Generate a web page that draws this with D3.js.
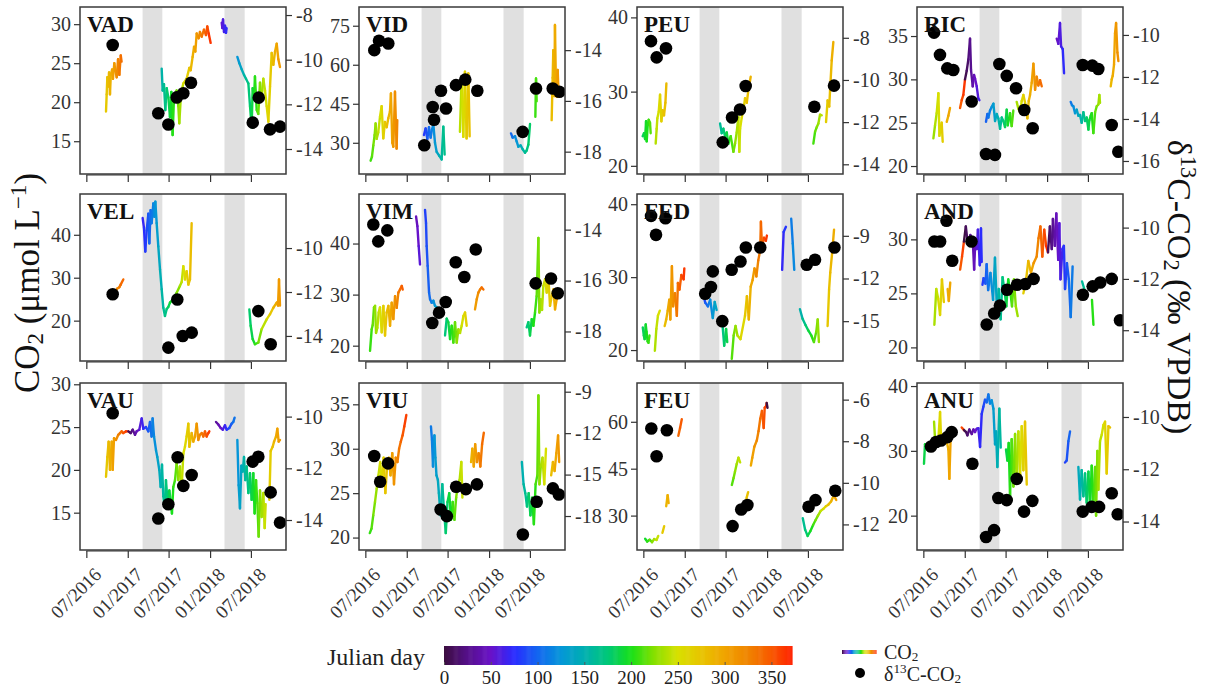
<!DOCTYPE html>
<html><head><meta charset="utf-8">
<script src="https://cdn.jsdelivr.net/npm/d3@7"></script>
<style>body{margin:0;background:#fff;} svg{display:block;} text{font-family:'Liberation Serif','Times New Roman',serif;}</style>
</head><body><svg id="c" width="1213" height="691"></svg>
<script>
// ---------------- DATA ----------------
const sites = ["VAD","VID","PEU","RIC","VEL","VIM","FED","AND","VAU","VIU","FEU","ANU"];
const xDomain = [2016.42, 2018.922];               // decimal year
const xTicks = [2016.497, 2017.0, 2017.496, 2018.0, 2018.496];
const xTickLabels = ["07/2016","01/2017","07/2017","01/2018","07/2018"];
const bands = [[2017.18, 2017.42], [2018.175, 2018.42]];

const co2Domain = [[10.8,32.2],[18,82.2],[18.9,41.4],[19.08,38.35],[10.6,49.5],[17.0,49.7],[18.5,41.4],[18.74,34.2],[10.64,30.15],[18.6,37.4],[19,72.4],[14.7,40.47]];
const co2Ticks = [[15,20,25,30],[30,45,60,75],[20,30,40],[20,25,30,35],[20,30,40],[20,30,40],[20,30,40],[20,25,30],[15,20,25,30],[20,25,30,35],[30,45,60],[20,30,40]];
const d13cDomain = [[-15.12,-7.64],[-18.88,-12.3],[-14.46,-6.54],[-16.62,-8.67],[-15.14,-7.54],[-19.16,-12.6],[-17.8,-6.06],[-15.2,-8.69],[-15.16,-8.7],[-20.46,-8.37],[-13.23,-5.2],[-15.09,-8.7]];
const d13cTicks = [[-8,-10,-12,-14],[-14,-16,-18],[-8,-10,-12,-14],[-10,-12,-14,-16],[-10,-12,-14],[-14,-16,-18],[-9,-12,-15],[-10,-12,-14],[-10,-12,-14],[-9,-12,-15,-18],[-6,-8,-10,-12],[-10,-12,-14]];

const jdStops = [0,25,50,75,100,125,150,175,200,225,250,275,300,325,350,372];
const jdColors = ["#3d0f3f","#55108a","#6a12c8","#2a2cff","#1466f0","#0596d8","#00b0b0","#00c878","#18e018","#88e000","#d8e000","#e8c400","#f0a400","#f08400","#f85800","#ff2200"];
const legendTicks = [0,50,100,150,200,250,300,350];

// CO2 series (segments of [decimal year, µmol/L])
const co2_VAD = [
 [[2016.736,18.8],[2016.744,21],[2016.752,23.2],[2016.762,22],[2016.773,23.8],[2016.784,21],[2016.794,23.5],[2016.81,24.2],[2016.82,23],[2016.837,25],[2016.85,24],[2016.866,23.2],[2016.882,25.5],[2016.898,23.5],[2016.915,26],[2016.925,25.2]],
 [[2017.412,24.3],[2017.424,21.5],[2017.440,22.3],[2017.456,19],[2017.473,21.8],[2017.493,20.6],[2017.513,18.1],[2017.529,21.3],[2017.545,15.8],[2017.562,20.7],[2017.594,21.5],[2017.614,19.5],[2017.626,17.3],[2017.647,21.1],[2017.675,22.4],[2017.715,23],[2017.748,24.4],[2017.764,24.1],[2017.788,25.8],[2017.805,27.1],[2017.821,26.5],[2017.837,28.8],[2017.861,28.2],[2017.877,29],[2017.898,28.4],[2017.926,29.3],[2017.950,28.6],[2017.966,29.7],[2017.983,28.8],[2018.007,27.6]],
 [[2018.141,30.2],[2018.149,29.5],[2018.157,30.6],[2018.169,29],[2018.181,29.8],[2018.193,28.9],[2018.201,29.5]],
 [[2018.331,25.8],[2018.355,25],[2018.384,24.2],[2018.412,23.5],[2018.436,23],[2018.465,22.4],[2018.485,19.5],[2018.505,16.8],[2018.517,21.8],[2018.534,20.5],[2018.545,23.3],[2018.566,19],[2018.586,18.5],[2018.606,22.5],[2018.626,20.5],[2018.647,23],[2018.667,21.5],[2018.687,19.5],[2018.708,17.5],[2018.728,22],[2018.748,26.3],[2018.768,24.8],[2018.789,26.5],[2018.809,27.5],[2018.829,25.5],[2018.849,24.5]]
];
const co2_VID = [
 [[2016.561,23.1],[2016.577,24.6],[2016.594,29],[2016.610,33],[2016.622,37.4],[2016.634,31.5],[2016.654,34],[2016.675,40],[2016.695,44.1],[2016.715,31.7],[2016.735,38],[2016.756,36],[2016.776,39.4],[2016.796,42],[2016.808,49],[2016.824,30],[2016.837,28.5],[2016.857,49.6],[2016.877,27.8],[2016.885,38.7]],
 [[2017.209,33],[2017.229,35.5],[2017.250,31.5],[2017.270,36],[2017.290,32],[2017.306,35],[2017.323,37],[2017.343,30],[2017.363,26.5],[2017.395,25],[2017.424,23.6],[2017.444,36.2],[2017.460,25.5]],
 [[2017.646,34.2],[2017.667,55.4],[2017.687,32.3],[2017.707,57.3],[2017.727,31.7],[2017.748,56.7],[2017.764,32.5]],
 [[2018.266,33.6],[2018.286,32],[2018.315,32.5],[2018.335,30.5],[2018.355,28.5],[2018.383,29],[2018.408,27.5],[2018.436,26.2],[2018.456,27],[2018.477,29.3],[2018.497,37.2]],
 [[2018.562,40],[2018.570,54.7],[2018.578,46]],
 [[2018.760,38.7],[2018.772,55],[2018.780,65.6],[2018.792,48],[2018.800,75.3],[2018.813,50],[2018.821,47.7],[2018.833,58],[2018.845,48]]
];
const co2_PEU = [
 [[2016.489,24.0],[2016.505,24.4],[2016.518,23.6],[2016.530,26.0],[2016.538,23.3],[2016.550,25.5],[2016.562,26.2],[2016.578,25.8],[2016.586,24.4]],
 [[2016.647,23],[2016.659,25],[2016.667,26.4],[2016.684,27.3],[2016.700,29.6],[2016.716,26],[2016.732,27.5],[2016.748,26.8],[2016.765,28.5],[2016.777,31.1]],
 [[2017.429,25.7],[2017.449,24.4],[2017.469,25],[2017.489,24],[2017.510,24.5],[2017.530,23],[2017.558,24],[2017.591,21.9],[2017.611,23],[2017.631,24.5],[2017.651,26.6],[2017.663,21.9],[2017.672,25],[2017.692,26.5],[2017.712,27.5],[2017.732,29.1],[2017.753,28.5],[2017.773,30.2],[2017.801,32.0]],
 [[2018.562,23],[2018.583,24.6],[2018.603,25.2],[2018.623,25.7],[2018.643,26.9],[2018.664,26.8]],
 [[2018.716,25.9],[2018.735,28.8],[2018.755,28],[2018.765,30.2],[2018.785,34.2],[2018.805,36.7]]
];
const co2_RIC = [
 [[2016.619,23.2],[2016.639,24.7],[2016.659,26.1],[2016.680,28.4],[2016.692,23.5],[2016.708,24.5],[2016.720,25],[2016.732,22.8]],
 [[2016.781,25.1],[2016.801,25.8],[2016.821,26.7]],
 [[2016.943,26.7],[2016.963,27.6],[2016.983,28.2],[2017.003,30],[2017.024,31],[2017.044,32.3],[2017.064,34.7],[2017.076,31.1],[2017.097,29.2],[2017.113,30.5],[2017.125,30.1],[2017.145,29.2],[2017.165,27.8],[2017.178,27.6]],
 [[2017.258,25.1],[2017.275,26],[2017.287,25.6],[2017.307,26.4],[2017.327,26.8],[2017.348,27.2],[2017.368,25.2],[2017.388,26],[2017.408,25.5],[2017.429,24.3],[2017.449,25.6],[2017.469,25.2],[2017.489,24.5],[2017.510,26.5],[2017.522,24.7],[2017.550,26.1],[2017.570,24.6],[2017.590,26.4]],
 [[2017.631,27.4],[2017.651,26.6],[2017.672,26.2],[2017.692,27.5],[2017.712,28.2],[2017.740,27],[2017.761,25.5],[2017.777,27.5],[2017.793,28.2],[2017.813,29.6],[2017.834,31.8],[2017.854,28.8],[2017.874,30.3],[2017.894,29.3],[2017.915,29.9],[2017.935,29.2]],
 [[2018.117,34.7],[2018.137,34.1],[2018.157,36.5],[2018.170,33.8],[2018.190,33.5],[2018.206,30.7]],
 [[2018.287,27.4],[2018.303,27],[2018.319,26.9],[2018.340,26.1],[2018.360,26.5],[2018.380,25.8],[2018.400,25.9],[2018.420,25],[2018.441,26.2],[2018.461,25.2],[2018.481,25.6],[2018.502,24.2],[2018.514,25.3],[2018.530,25.8],[2018.542,26.1],[2018.562,23.8],[2018.583,26.2],[2018.603,26.9],[2018.623,27.1],[2018.635,28.2],[2018.643,27.3]],
 [[2018.773,29.2],[2018.785,30],[2018.797,30.4],[2018.813,31.7],[2018.825,35.3],[2018.838,36.5],[2018.854,33.1],[2018.866,32.1]]
];
const co2_VEL = [
 [[2016.83,26.3],[2016.845,26.5],[2016.873,27.5],[2016.898,27.8],[2016.914,28.4],[2016.946,29.6]],
 [[2017.181,43.9],[2017.197,41.6],[2017.213,36.1],[2017.230,41],[2017.250,44.9],[2017.262,38],[2017.278,45.7],[2017.290,42.7],[2017.311,47.3],[2017.323,44.2],[2017.335,47.7],[2017.351,42.7],[2017.371,37.3],[2017.392,31.9],[2017.412,27.3],[2017.432,23],[2017.452,21.1],[2017.473,22.7],[2017.493,23.2],[2017.513,24.2],[2017.553,25],[2017.594,26.5],[2017.634,28.1],[2017.655,29],[2017.675,32.7],[2017.695,29.6],[2017.715,31.5],[2017.736,28.4],[2017.756,29.6],[2017.776,42.7]],
 [[2018.477,22.6],[2018.493,18.8],[2018.517,15.7],[2018.545,14.5],[2018.586,14.9],[2018.626,18],[2018.687,20.3],[2018.728,21.5],[2018.768,23],[2018.809,24.2],[2018.825,23.5],[2018.837,29.6],[2018.849,23.5]]
];
const co2_VIM = [
 [[2016.554,19],[2016.574,23.2],[2016.586,24],[2016.602,27.5],[2016.615,27.8],[2016.627,22.5],[2016.643,23.5],[2016.659,26.5],[2016.675,27.5],[2016.696,22.6],[2016.716,27.8],[2016.736,22],[2016.756,26.5],[2016.777,27.8],[2016.797,23.9],[2016.817,28.4],[2016.837,25.2],[2016.858,29.7],[2016.878,27.4],[2016.898,30.4],[2016.918,31],[2016.939,31.7],[2016.951,31]],
 [[2017.113,45.3],[2017.129,43.4],[2017.145,39.5],[2017.161,35.9]],
 [[2017.222,46.6],[2017.234,44],[2017.242,39.5],[2017.254,35.6],[2017.271,30.4],[2017.283,29.1],[2017.303,28.4],[2017.323,28.8],[2017.343,27.8],[2017.364,27.5],[2017.384,27.1],[2017.412,26.5]],
 [[2017.465,22],[2017.485,25.3],[2017.505,24.6],[2017.526,21.3],[2017.546,23.9],[2017.566,20.6],[2017.586,24.6],[2017.607,20.6],[2017.627,23.2],[2017.647,22.5],[2017.667,23.9],[2017.688,25.8],[2017.708,26.5],[2017.728,23.9]],
 [[2017.829,27.1],[2017.850,29.1],[2017.870,30.4],[2017.890,31],[2017.910,31.4],[2017.931,31]],
 [[2018.457,23.6],[2018.477,24.6],[2018.497,22],[2018.518,25.2],[2018.538,23.9],[2018.558,26.5],[2018.578,29.7],[2018.599,41.1],[2018.611,26.5],[2018.627,29.1],[2018.643,27],[2018.659,31.7],[2018.680,33],[2018.700,30.4],[2018.720,33.6],[2018.740,27.8],[2018.761,29.7],[2018.781,31],[2018.801,27.1],[2018.821,29.1],[2018.854,30]]
];
const co2_FED = [
 [[2016.490,23.1],[2016.503,22],[2016.513,21.5],[2016.526,23.5],[2016.536,22.5],[2016.549,21.2],[2016.559,21],[2016.572,22]],
 [[2016.637,19.9],[2016.655,22.9],[2016.674,24.7],[2016.697,25.4]],
 [[2016.756,23.3],[2016.775,24.2],[2016.793,25.4],[2016.812,26.9],[2016.825,24.2],[2016.844,31.5],[2016.858,26],[2016.881,27.8],[2016.904,24.7],[2016.917,29.2],[2016.936,28.3],[2016.959,30.3],[2016.986,29.7],[2016.995,31.2]],
 [[2017.226,27.6],[2017.249,26.5],[2017.281,26],[2017.309,26.9],[2017.341,24.4],[2017.364,26.6],[2017.387,25.5]],
 [[2017.456,23.8],[2017.479,20.6],[2017.502,22.9],[2017.516,21.1]],
 [[2017.571,18.8],[2017.594,22],[2017.617,23.3],[2017.640,22],[2017.677,21.5],[2017.732,24.7],[2017.755,27.4],[2017.778,24.2],[2017.801,28.7],[2017.824,29.6],[2017.847,31.2],[2017.870,30.1],[2017.893,32.3],[2017.916,33.7],[2017.925,37.6],[2017.939,34.1],[2017.962,35.4],[2017.985,35],[2017.998,35.7]],
 [[2018.183,31],[2018.201,36.2],[2018.229,36.9]],
 [[2018.293,38],[2018.312,34.6],[2018.330,31]],
 [[2018.399,25.6],[2018.431,24.3],[2018.468,23.4],[2018.500,22.7],[2018.537,22],[2018.569,21.1],[2018.597,22.5],[2018.615,24.2],[2018.629,21.1]],
 [[2018.735,23.3],[2018.753,28.3],[2018.767,30.6],[2018.790,33.3],[2018.813,36.5]]
];
const co2_AND = [
 [[2016.631,22.1],[2016.654,25.4],[2016.677,24.5],[2016.700,23],[2016.723,26.3],[2016.746,24.2]],
 [[2016.792,25.4],[2016.806,24.3],[2016.824,26]],
 [[2016.944,27.2],[2016.967,28.4],[2016.990,29.8],[2017.013,31.2],[2017.036,29.6],[2017.068,30.4],[2017.100,29.5],[2017.114,27.2],[2017.128,29.8],[2017.146,29.1],[2017.160,30.9],[2017.183,27.6],[2017.197,31],[2017.206,27.9]],
 [[2017.215,25.8],[2017.229,26.4],[2017.252,25.9],[2017.266,27.7],[2017.284,25.3],[2017.312,26.9],[2017.344,24.4],[2017.367,28.3],[2017.390,23.6],[2017.413,25.4],[2017.436,22.6],[2017.459,26.5],[2017.482,25.3],[2017.505,23.8],[2017.528,26.3],[2017.551,25.3],[2017.574,23.8],[2017.597,26.3],[2017.620,23.8],[2017.643,22.9]],
 [[2017.712,25],[2017.744,26.2],[2017.772,28],[2017.804,26.9],[2017.836,27.8],[2017.873,28.4],[2017.896,30.1],[2017.919,31.2],[2017.942,28.4],[2017.965,30.9],[2017.988,29.4],[2018.011,28.8],[2018.034,31.2],[2018.057,29.1],[2018.071,31.9],[2018.094,29.4],[2018.112,32.4],[2018.135,28.1],[2018.149,31.5],[2018.163,26.3],[2018.186,29.1],[2018.204,29.4],[2018.218,25.4],[2018.241,27.8],[2018.264,26.3],[2018.287,22.8],[2018.310,27.5]],
 [[2018.425,26.1],[2018.448,25.5],[2018.462,25.1]],
 [[2018.545,24.4],[2018.563,22.1]]
];
const co2_VAU = [
 [[2016.736,19.2],[2016.752,21.5],[2016.768,23.3],[2016.784,20],[2016.805,23.3],[2016.817,20],[2016.833,23.7],[2016.857,23.5],[2016.885,24.1],[2016.906,24.3],[2016.926,24.5],[2016.946,24.3],[2016.979,24.5],[2017.007,24.5],[2017.035,24.3],[2017.060,24.7],[2017.088,24.1],[2017.108,24.5],[2017.140,24.7],[2017.169,26],[2017.189,24.8],[2017.221,25],[2017.250,24.5],[2017.270,25.6],[2017.290,23.9],[2017.302,26],[2017.319,23.9],[2017.343,22.3],[2017.359,21.5],[2017.383,20],[2017.400,18],[2017.416,20.6],[2017.432,16.9],[2017.448,15.7],[2017.464,18.8],[2017.485,16.1],[2017.505,17.6],[2017.521,16.5],[2017.537,14.9],[2017.553,18],[2017.574,18.8],[2017.594,20.8],[2017.614,18.8],[2017.634,20.4],[2017.655,18],[2017.675,21.9],[2017.695,22.7],[2017.715,23.9],[2017.736,25.4],[2017.748,22.7],[2017.776,24.3],[2017.796,23.3],[2017.817,23.9],[2017.837,25.4],[2017.857,23.5],[2017.877,24.1],[2017.898,24.3],[2017.918,23.9],[2017.938,24.5],[2017.958,23.9],[2017.979,24.3],[2017.991,24.5]],
 [[2018.072,25.6],[2018.100,25.3],[2018.128,24.9],[2018.153,24.7],[2018.181,25.2],[2018.201,24.7],[2018.234,24.9],[2018.262,25.4],[2018.282,25.6],[2018.298,26.1]],
 [[2018.331,23.5],[2018.347,18.2],[2018.363,15.5],[2018.380,20.5],[2018.396,19.8],[2018.412,21.5],[2018.428,18.8],[2018.444,20.4],[2018.465,17.3],[2018.485,19.6],[2018.505,16.5],[2018.525,19.6],[2018.541,14.9],[2018.558,18.8],[2018.574,16.1],[2018.590,12.2],[2018.606,17.6],[2018.626,14.5],[2018.647,17.3],[2018.663,13.2],[2018.675,16]],
 [[2018.720,16.5],[2018.736,22.2],[2018.760,22.7],[2018.777,23.3],[2018.801,23.9],[2018.817,24.8],[2018.833,23.3],[2018.849,23.5]]
];
const co2_VIU = [
 [[2016.551,20.5],[2016.572,21],[2016.593,22.5],[2016.614,24],[2016.635,25.5],[2016.656,27],[2016.677,28.5],[2016.698,26],[2016.719,29],[2016.740,25],[2016.761,28],[2016.782,29],[2016.803,27],[2016.824,29.5],[2016.845,26],[2016.866,29],[2016.887,28.5],[2016.907,30],[2016.928,30.8],[2016.949,31.5],[2016.970,32.5],[2016.995,33.8]],
 [[2017.294,32.5],[2017.306,31],[2017.319,28],[2017.336,31.5],[2017.348,29],[2017.361,27],[2017.378,26.5],[2017.390,25],[2017.411,22.5],[2017.432,26],[2017.453,23],[2017.474,20.5],[2017.495,24],[2017.516,25],[2017.537,22],[2017.558,24],[2017.579,22],[2017.600,24.5],[2017.621,26],[2017.642,26.5],[2017.663,28.5],[2017.676,24.5]],
 [[2017.781,28.5],[2017.797,30],[2017.814,28],[2017.831,30.5],[2017.852,28.5],[2017.873,29.5],[2017.894,28],[2017.915,30.5],[2017.936,31.8]],
 [[2018.398,28.5],[2018.419,26],[2018.440,25],[2018.460,23.5],[2018.481,25],[2018.502,22.5],[2018.523,24.5],[2018.544,21.5],[2018.565,26],[2018.586,27],[2018.599,36],[2018.612,26],[2018.628,28],[2018.649,29],[2018.670,26],[2018.691,30]],
 [[2018.754,27],[2018.775,28.5],[2018.796,27.5],[2018.817,29.5],[2018.838,31.5],[2018.851,28.5]]
];
const co2_FEU = [
 [[2016.519,22.6],[2016.544,21.7],[2016.574,22.3],[2016.603,21.5],[2016.628,22.5],[2016.657,22.2],[2016.678,23.5]],
 [[2016.729,24.5],[2016.750,26.6]],
 [[2016.775,33],[2016.792,36.5],[2016.804,34]],
 [[2016.922,55.5],[2016.943,58],[2016.964,60.8]],
 [[2017.572,39.8],[2017.593,42],[2017.610,44],[2017.631,46.5],[2017.652,48.5],[2017.673,47]],
 [[2017.749,35.5],[2017.770,37.5]],
 [[2017.803,46],[2017.820,48.5],[2017.845,52],[2017.875,54],[2017.896,57],[2017.917,61],[2017.938,63.5],[2017.959,58],[2017.971,64.5],[2017.988,65],[2017.995,66],[2018.005,64.5]],
 [[2018.433,29.2],[2018.462,25.5],[2018.492,23.5],[2018.525,25],[2018.559,27],[2018.588,28.5],[2018.618,30],[2018.651,31.5],[2018.685,32.2],[2018.714,33],[2018.744,33.5],[2018.777,34.5],[2018.811,36.5],[2018.840,35]]
];
const co2_ANU = [
 [[2016.505,28],[2016.517,31],[2016.538,30.5],[2016.558,30]],
 [[2016.627,34.5],[2016.643,31],[2016.659,32],[2016.680,31.8],[2016.700,36],[2016.712,32],[2016.732,32.5],[2016.761,32],[2016.781,31.5],[2016.801,30.2],[2016.813,25.7],[2016.829,32.2],[2016.854,33.2]],
 [[2016.963,33.6],[2016.991,33.2],[2017.016,32.9],[2017.032,32.4],[2017.056,33.3],[2017.085,32.6],[2017.105,33.3],[2017.125,32.9],[2017.145,33.4],[2017.165,33.5],[2017.186,30.6],[2017.206,35.7],[2017.226,36.8],[2017.246,37.9],[2017.267,37.5],[2017.287,38.7],[2017.307,37.3],[2017.327,37.8],[2017.348,36.5],[2017.368,31],[2017.380,33],[2017.396,27.5],[2017.420,36.5],[2017.437,30.5]],
 [[2017.501,30.2],[2017.518,28.5],[2017.534,31.2],[2017.550,23],[2017.570,31.8],[2017.591,24.5],[2017.611,32.6],[2017.631,25],[2017.651,33],[2017.672,26],[2017.692,33.8],[2017.712,27],[2017.732,34.5],[2017.753,24.8]],
 [[2018.218,28.2],[2018.238,28.5],[2018.259,31.5],[2018.279,33]],
 [[2018.380,27.5],[2018.400,22.5],[2018.420,27],[2018.441,23],[2018.461,26.5],[2018.481,22],[2018.502,26.8],[2018.522,21],[2018.542,27.7],[2018.562,22],[2018.583,27.5],[2018.595,20],[2018.611,30],[2018.623,24],[2018.643,31.5],[2018.664,32.5],[2018.684,34],[2018.704,34.5],[2018.724,26.5],[2018.745,33.8],[2018.765,33.6]]
];

// δ13C-CO2 samples ([decimal year, ‰ VPDB])
const d13c_VAD = [[2016.817,-9.34],[2017.371,-12.4],[2017.493,-12.9],[2017.595,-11.69],[2017.675,-11.5],[2017.768,-11.03],[2018.518,-12.82],[2018.591,-11.7],[2018.728,-13.12],[2018.849,-13.0]];
const d13c_VID = [[2016.606,-14.0],[2016.663,-13.63],[2016.776,-13.74],[2017.213,-17.75],[2017.315,-16.24],[2017.331,-16.74],[2017.416,-15.6],[2017.477,-16.3],[2017.598,-15.38],[2017.711,-15.16],[2017.857,-15.6],[2018.408,-17.22],[2018.570,-15.51],[2018.773,-15.51],[2018.853,-15.64]];
const d13c_PEU = [[2016.590,-8.16],[2016.659,-8.93],[2016.772,-8.5],[2017.461,-12.96],[2017.574,-11.78],[2017.671,-11.4],[2017.740,-10.29],[2018.574,-11.27],[2018.813,-10.27]];
const d13c_RIC = [[2016.627,-9.89],[2016.699,-10.95],[2016.788,-11.59],[2016.861,-11.67],[2017.084,-13.17],[2017.258,-15.67],[2017.367,-15.71],[2017.420,-11.38],[2017.510,-11.95],[2017.623,-12.54],[2017.723,-13.57],[2017.825,-14.44],[2018.433,-11.43],[2018.549,-11.46],[2018.622,-11.62],[2018.785,-14.29],[2018.865,-15.56]];
const d13c_VEL = [[2016.817,-12.1],[2017.493,-14.53],[2017.602,-12.34],[2017.668,-14.0],[2017.777,-13.85],[2018.586,-12.87],[2018.736,-14.38]];
const d13c_VIM = [[2016.594,-13.8],[2016.654,-14.46],[2016.764,-14.03],[2017.310,-17.67],[2017.392,-17.26],[2017.473,-16.84],[2017.595,-15.28],[2017.699,-15.86],[2017.838,-14.78],[2018.566,-16.11],[2018.752,-15.92],[2018.834,-16.5]];
const d13c_FED = [[2016.591,-7.6],[2016.651,-8.93],[2016.766,-7.76],[2017.248,-13.07],[2017.318,-12.6],[2017.341,-11.5],[2017.456,-15.0],[2017.570,-11.38],[2017.677,-10.8],[2017.742,-9.82],[2017.917,-9.82],[2018.481,-11.03],[2018.582,-10.68],[2018.818,-9.82]];
const d13c_AND = [[2016.631,-10.54],[2016.701,-10.54],[2016.778,-9.73],[2016.848,-11.29],[2017.082,-10.54],[2017.267,-13.78],[2017.358,-13.35],[2017.427,-13.04],[2017.514,-12.42],[2017.635,-12.23],[2017.736,-12.2],[2017.836,-12.0],[2018.435,-12.62],[2018.554,-12.29],[2018.646,-12.14],[2018.785,-12.0],[2018.886,-13.61]];
const d13c_VAU = [[2016.817,-9.87],[2017.371,-13.94],[2017.493,-13.39],[2017.606,-11.57],[2017.675,-12.68],[2017.776,-12.26],[2018.517,-11.74],[2018.586,-11.55],[2018.736,-12.93],[2018.849,-14.1]];
const d13c_VIU = [[2016.605,-13.66],[2016.677,-15.52],[2016.773,-14.19],[2017.411,-17.53],[2017.487,-18.01],[2017.600,-15.88],[2017.718,-16.05],[2017.852,-15.71],[2018.410,-19.34],[2018.578,-16.97],[2018.775,-16.0],[2018.847,-16.44]];
const d13c_FEU = [[2016.594,-7.39],[2016.658,-8.72],[2016.783,-7.47],[2017.581,-12.08],[2017.686,-11.28],[2017.761,-11.07],[2018.504,-11.15],[2018.588,-10.83],[2018.828,-10.38]];
const d13c_ANU = [[2016.590,-11.13],[2016.651,-10.96],[2016.712,-10.9],[2016.789,-10.77],[2016.841,-10.58],[2017.093,-11.79],[2017.259,-14.59],[2017.356,-14.33],[2017.408,-13.1],[2017.510,-13.18],[2017.631,-12.37],[2017.720,-13.62],[2017.821,-13.21],[2018.433,-13.62],[2018.542,-13.44],[2018.631,-13.44],[2018.785,-12.92],[2018.858,-13.72]];

const co2Data = [co2_VAD,co2_VID,co2_PEU,co2_RIC,co2_VEL,co2_VIM,co2_FED,co2_AND,co2_VAU,co2_VIU,co2_FEU,co2_ANU];
const d13cData = [d13c_VAD,d13c_VID,d13c_PEU,d13c_RIC,d13c_VEL,d13c_VIM,d13c_FED,d13c_AND,d13c_VAU,d13c_VIU,d13c_FEU,d13c_ANU];

// ---------------- LAYOUT ----------------
const colX = [80, 359, 637, 917], rowY = [7, 194, 383];
const pw = 206, ph = 167;
const svg = d3.select("#c");
svg.append("rect").attr("width",1213).attr("height",691).attr("fill","#fff");

const x = d3.scaleLinear().domain(xDomain).range([0, pw]);
const color = d3.scaleLinear().domain(jdStops).range(jdColors).clamp(true);
const jd = t => (t - Math.floor(t)) * 365 + 1;

function rich(sel, parts, size) {
  let cur = 0;
  parts.forEach(([s, kind]) => {
    const target = kind === "sup" ? -0.38*size : kind === "sub" ? 0.12*size : 0;
    sel.append("tspan").attr("dy", target - cur)
       .style("font-size", (kind === "n" ? size : size*0.66) + "px").text(s);
    cur = target;
  });
}

sites.forEach((name, i) => {
  const col = i % 4, row = Math.floor(i / 4);
  const g = svg.append("g").attr("transform", `translate(${colX[col]},${rowY[row]})`);
  const yL = d3.scaleLinear().domain(co2Domain[i]).range([ph, 0]);
  const yR = d3.scaleLinear().domain(d13cDomain[i]).range([ph, 0]);

  const cid = "clip" + i;
  g.append("clipPath").attr("id", cid).append("rect").attr("width", pw).attr("height", ph);
  const inner = g.append("g").attr("clip-path", `url(#${cid})`);

  inner.selectAll("rect.band").data(bands).join("rect").attr("class","band")
    .attr("x", d => x(d[0])).attr("width", d => x(d[1]) - x(d[0]))
    .attr("y", 0).attr("height", ph).attr("fill", "#e0e0e0");

  g.append("text").attr("x", 7).attr("y", 25)
    .style("font-weight", "bold").style("font-size", "23px").attr("fill", "#111").text(name);

  co2Data[i].forEach(seg => {
    const pairs = d3.pairs(seg);
    inner.append("g").selectAll("line").data(pairs).join("line")
      .attr("x1", d => x(d[0][0])).attr("y1", d => yL(d[0][1]))
      .attr("x2", d => x(d[1][0])).attr("y2", d => yL(d[1][1]))
      .attr("stroke", d => color(jd((d[0][0] + d[1][0]) / 2)))
      .attr("stroke-width", 2.4).attr("stroke-linecap", "round");
  });

  inner.append("g").selectAll("circle").data(d13cData[i]).join("circle")
    .attr("cx", d => x(d[0])).attr("cy", d => yR(d[1])).attr("r", 6.3).attr("fill", "#000");

  g.append("rect").attr("width", pw).attr("height", ph).attr("fill", "none")
    .attr("stroke", "#3a3a3a").attr("stroke-width", 1.5);

  // left axis
  const aL = g.append("g").call(d3.axisLeft(yL).tickValues(co2Ticks[i]).tickSize(6).tickPadding(3));
  aL.select(".domain").remove();
  aL.selectAll("line").attr("stroke", "#333").attr("stroke-width", 1.2);
  aL.selectAll("text").style("font-size", "20px").attr("fill", "#333");

  // right axis
  const aR = g.append("g").attr("transform", `translate(${pw},0)`)
    .call(d3.axisRight(yR).tickValues(d13cTicks[i]).tickSize(6).tickPadding(4).tickFormat(d => String(d)));
  aR.select(".domain").remove();
  aR.selectAll("line").attr("stroke", "#333").attr("stroke-width", 1.2);
  aR.selectAll("text").style("font-size", "20px").attr("fill", "#333");

  // bottom axis
  const aB = g.append("g").attr("transform", `translate(0,${ph + 1})`)
    .call(d3.axisBottom(x).tickValues(xTicks).tickSize(7).tickFormat((d, j) => row === 2 ? xTickLabels[j] : ""));
  aB.select(".domain").remove();
  aB.append("line").attr("x1", x(xTicks[0])).attr("x2", x(xTicks[xTicks.length-1]))
    .attr("stroke", "#333").attr("stroke-width", 1.2);
  aB.selectAll("line").attr("stroke", "#333").attr("stroke-width", 1.2);
  aB.selectAll(".tick text").style("font-size", "19px").attr("fill", "#333")
    .attr("x", 0).attr("y", 0).attr("dy", "0.35em").attr("text-anchor", "end")
    .attr("transform", "translate(11,20) rotate(-45)");
});

// axis titles
const tL = svg.append("text").attr("transform", "translate(39,283) rotate(-90)")
  .attr("text-anchor", "middle").attr("fill", "#111");
rich(tL, [["CO","n"],["2","sub"],[" (μmol L","n"],["−1","sup"],[")","n"]], 35);

const tR = svg.append("text").attr("transform", "translate(1168,287) rotate(90)")
  .attr("text-anchor", "middle").attr("fill", "#111");
rich(tR, [["δ","n"],["13","sup"],["C-CO","n"],["2","sub"],[" (‰ VPDB)","n"]], 34);

// colour legend
const lx = d3.scaleLinear().domain([0, 372]).range([444, 792]);
const lg = svg.append("g");
lg.selectAll("rect").data(d3.range(0, 372, 1)).join("rect")
  .attr("x", d => lx(d)).attr("width", lx(1) - lx(0) + 0.6)
  .attr("y", 646).attr("height", 19).attr("fill", d => color(d + 0.5));
const la = lg.append("g").attr("transform", "translate(0,665)")
  .call(d3.axisBottom(lx).tickValues(legendTicks).tickSize(-3).tickPadding(6));
la.select(".domain").remove();
la.selectAll("line").attr("stroke", "#555");
la.selectAll("text").style("font-size", "19px").attr("fill", "#222");
lg.append("text").attr("x", 327).attr("y", 665)
  .style("font-size", "24px").attr("fill", "#222").text("Julian day");

// key
const keyDays = d3.range(0, 366, 12);
const kx = d3.scaleLinear().domain([0, 366]).range([842, 876]);
lg.selectAll("line.key").data(keyDays).join("line").attr("class", "key")
  .attr("x1", d => kx(d)).attr("x2", d => kx(d + 12)).attr("y1", 652).attr("y2", 652)
  .attr("stroke", d => color(d + 6)).attr("stroke-width", 4);
const k1 = lg.append("text").attr("x", 884).attr("y", 659).attr("fill", "#222");
rich(k1, [["CO","n"],["2","sub"]], 20);
lg.append("circle").attr("cx", 860).attr("cy", 673).attr("r", 5).attr("fill", "#000");
const k2 = lg.append("text").attr("x", 884).attr("y", 681).attr("fill", "#222");
rich(k2, [["δ","n"],["13","sup"],["C-CO","n"],["2","sub"]], 20);
</script>
</body></html>
